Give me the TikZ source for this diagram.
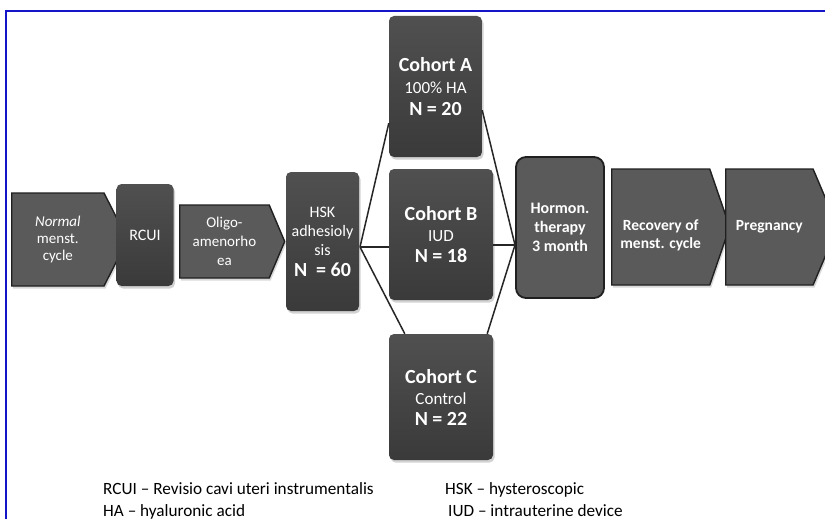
\documentclass[tikz,border=0pt]{standalone}
\usepackage{fontspec}
\setmainfont{Carlito}
\usetikzlibrary{shapes.symbols,shadows,calc}
\definecolor{frameblue}{RGB}{20,20,200}
\definecolor{boxtop}{RGB}{80,80,80}
\definecolor{boxbot}{RGB}{58,58,58}
\definecolor{pentgray}{RGB}{90,90,90}
\definecolor{edgegray}{RGB}{32,32,32}

\begin{document}
\begin{tikzpicture}[x=1pt,y=-1pt,
  cbox/.style={rounded corners=5pt, top color=boxtop, bottom color=boxbot, text=white, align=center, inner sep=0pt,
    drop shadow={opacity=0.35, shadow xshift=1.5pt, shadow yshift=-2.5pt}},
  pbox/.style={signal, signal to=east, draw=edgegray, line width=1.4pt, fill=pentgray, text=white, align=center, inner sep=0pt, anchor=west,
    drop shadow={opacity=0.3, shadow xshift=1.5pt, shadow yshift=-2.5pt}},
  link/.style={line width=1.5pt, draw=black!85}]
  \useasboundingbox[fill=white] (0,0) rectangle (825,519);

  %--- Frame ---
  \draw[frameblue, line width=2.5pt] (6,519) -- (6,11) -- (825,11);

  %--- Pathway before surgery ---
  \node[pbox, minimum width=116pt, minimum height=93pt, signal pointer angle=126, font=\fontsize{15}{17}\selectfont] (norm) at (11,239.5) {\textit{Normal}\\menst.\\cycle};
  \node[cbox, minimum width=57pt, minimum height=102pt, font=\fontsize{16}{19}\selectfont] (rcui) at (145,235) {RCUI};
  \node[pbox, minimum width=105pt, minimum height=73pt, signal pointer angle=134, font=\fontsize{15}{19}\selectfont] (olig) at (179,241.5) {Oligo-\\amenorho\\ea};
  \node[cbox, minimum width=73pt, minimum height=139pt, font=\fontsize{16}{19}\selectfont] (hsk) at (322.5,241.5) {HSK\\adhesioly\\sis\\[2pt]{\bfseries\fontsize{20}{22}\selectfont N~~= 60}};

  %--- Cohorts ---
  \node[cbox, minimum width=93pt, minimum height=141pt, font=\fontsize{17}{22}\selectfont] (coA) at (435.5,86.5) {{\bfseries\fontsize{20}{22}\selectfont Cohort A}\\100\% HA\\{\bfseries\fontsize{20}{22}\selectfont N = 20}};
  \node[cbox, minimum width=104pt, minimum height=131pt, font=\fontsize{17}{21}\selectfont] (coB) at (441,234.5) {{\bfseries\fontsize{20}{22}\selectfont Cohort B}\\IUD\\{\bfseries\fontsize{20}{22}\selectfont N = 18}};
  \node[cbox, minimum width=104pt, minimum height=126pt, font=\fontsize{17}{21}\selectfont] (coC) at (441,397) {{\bfseries\fontsize{20}{22}\selectfont Cohort C}\\Control\\{\bfseries\fontsize{20}{22}\selectfont N = 22}};

  %--- After surgery ---
  \node[rounded corners=10pt, draw=edgegray, line width=1.8pt, fill=pentgray, text=white, align=center, inner sep=0pt,
    minimum width=88pt, minimum height=141pt, font=\bfseries\fontsize{16}{19}\selectfont] (horm) at (560,227.5) {Hormon.\\therapy\\3 month};
  \node[pbox, minimum width=118pt, minimum height=116pt, signal pointer angle=142, text height=46pt, font=\bfseries\fontsize{15.5}{18}\selectfont] (recov) at (611,227) {Recovery of\\menst. cycle};
  \node[pbox, minimum width=112pt, minimum height=116pt, signal pointer angle=134, font=\bfseries\fontsize{15.5}{18}\selectfont] (preg) at (725,227) {Pregnancy};

  % links to and from the cohorts
  \coordinate (split) at (360,247);
  \coordinate (join) at (515,245);
  \draw[link] (split) -- ($(coA.south west)+(0,-34)$);
  \draw[link] (split) -- (split -| coB.west);
  \draw[link] (split) -- ($(coC.north west)+(16,0)$);
  \draw[link] ($(coA.south east)+(0,-47)$) -- (join);
  \draw[link] (join -| coB.east) -- (join);
  \draw[link] ($(coC.north east)+(-6,0)$) -- (join);

  %--- Abbreviations ---
  \node[anchor=base west, inner sep=0pt, font=\fontsize{17.2}{20}\selectfont] (ab1) at (103,494) {RCUI – Revisio cavi uteri instrumentalis};
  \node[anchor=base west, inner sep=0pt, font=\fontsize{17.2}{20}\selectfont] (ab2) at (103,516) {HA – hyaluronic acid};
  \node[anchor=base west, inner sep=0pt, font=\fontsize{17.2}{20}\selectfont] (ab3) at (445,494) {HSK – hysteroscopic};
  \node[anchor=base west, inner sep=0pt, font=\fontsize{17.2}{20}\selectfont] (ab4) at (448,516) {IUD – intrauterine device};
\end{tikzpicture}
\end{document}
